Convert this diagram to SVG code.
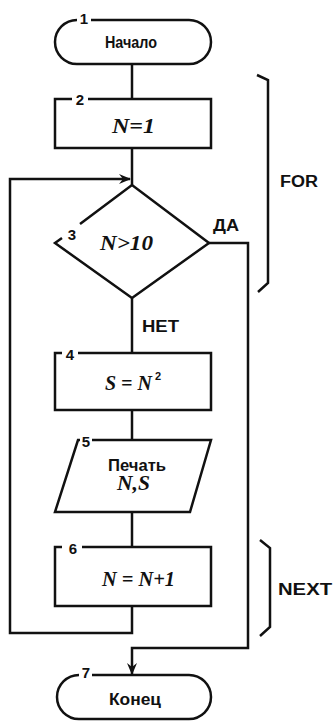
<svg xmlns="http://www.w3.org/2000/svg" width="334" height="721" viewBox="0 0 334 721">
<style>
.s{fill:none;stroke:#111;stroke-width:2.5;stroke-linejoin:miter;stroke-linecap:butt}
.t{font-family:"Liberation Sans",Arial,sans-serif;font-weight:bold;font-size:16px;fill:#111}
.n{font-family:"Liberation Sans",Arial,sans-serif;font-weight:bold;font-size:15px;fill:#111}
.m{font-family:"Liberation Serif","Times New Roman",serif;font-weight:bold;font-style:italic;font-size:20px;fill:#111}
</style>
<defs>
<marker id="ar" viewBox="0 0 12 10" refX="11" refY="5" markerWidth="12" markerHeight="10" markerUnits="userSpaceOnUse" orient="auto">
<path d="M0 0 L12 5 L0 10 L4 5 Z" fill="#111"/>
</marker>
</defs>
<rect width="334" height="721" fill="#fff"/>
<g id="connectors">
<path class="s" d="M132 64 V99"/>
<path class="s" d="M132 148 V185"/>
<path class="s" d="M132 298 V353"/>
<path class="s" d="M132 410 V440"/>
<path class="s" d="M132 512 V547"/>
<path class="s" d="M132 606 V633 H10 V179 H130" marker-end="url(#ar)"/>
<path class="s" d="M209 243 H248 V648 H132 V674" marker-end="url(#ar)"/>
<text class="t" x="213" y="231" textLength="26" lengthAdjust="spacingAndGlyphs">ДА</text>
<text class="t" x="142" y="332" textLength="37" lengthAdjust="spacingAndGlyphs">НЕТ</text>
</g>
<g id="n1">
<path class="s" d="M91 20 H189 A22 22 0 0 1 189 64 H77 A22 22 0 0 1 77 20"/>
<text class="n" x="84" y="24" text-anchor="middle">1</text>
<text class="t" x="105" y="48" textLength="52" lengthAdjust="spacingAndGlyphs">Начало</text>
</g>
<g id="n2">
<path class="s" d="M88 99 H211 V148 H55 V99 H72"/>
<text class="n" x="80" y="105" text-anchor="middle">2</text>
<text class="m" x="112" y="133" textLength="43" lengthAdjust="spacingAndGlyphs">N=1</text>
</g>
<g id="n3">
<path class="s" d="M80 224 L132 185 L209 243 L132 298 L55 243 L62 238"/>
<text class="n" x="72" y="240" text-anchor="middle">3</text>
<text class="m" x="100" y="250" textLength="53" lengthAdjust="spacingAndGlyphs">N&gt;10</text>
</g>
<g id="n4">
<path class="s" d="M78 353 H211 V410 H55 V353 H62"/>
<text class="n" x="70" y="360" text-anchor="middle">4</text>
<text class="m" x="105" y="390">S = N<tspan font-size="11" font-style="normal" font-family="Liberation Sans,Arial,sans-serif" dx="3" dy="-10">2</tspan></text>
</g>
<g id="n5">
<path class="s" d="M92 440 H211 L190 512 H55 L78 440 H80"/>
<text class="n" x="86" y="447" text-anchor="middle">5</text>
<text class="t" x="108" y="471" textLength="58" lengthAdjust="spacingAndGlyphs">Печать</text>
<text class="m" x="117" y="490" textLength="33" lengthAdjust="spacingAndGlyphs">N,S</text>
</g>
<g id="n6">
<path class="s" d="M82 547 H211 V606 H55 V547 H62"/>
<text class="n" x="73" y="554" text-anchor="middle">6</text>
<text class="m" x="102" y="586" textLength="73" lengthAdjust="spacingAndGlyphs">N = N+1</text>
</g>
<g id="n7">
<path class="s" d="M92 675 H189 A22 22 0 0 1 189 719 H79 A22 22 0 0 1 79 675"/>
<text class="n" x="86" y="678" text-anchor="middle">7</text>
<text class="t" x="109" y="705" textLength="52" lengthAdjust="spacingAndGlyphs">Конец</text>
</g>
<g id="brackets">
<path class="s" d="M257 75 L268 80 V283 L258 292"/>
<text class="t" x="280" y="187" textLength="38" lengthAdjust="spacingAndGlyphs">FOR</text>
<path class="s" d="M260 540 L270 548 V627 L260 636"/>
<text class="t" x="278" y="595" textLength="54" lengthAdjust="spacingAndGlyphs">NEXT</text>
</g>
</svg>
